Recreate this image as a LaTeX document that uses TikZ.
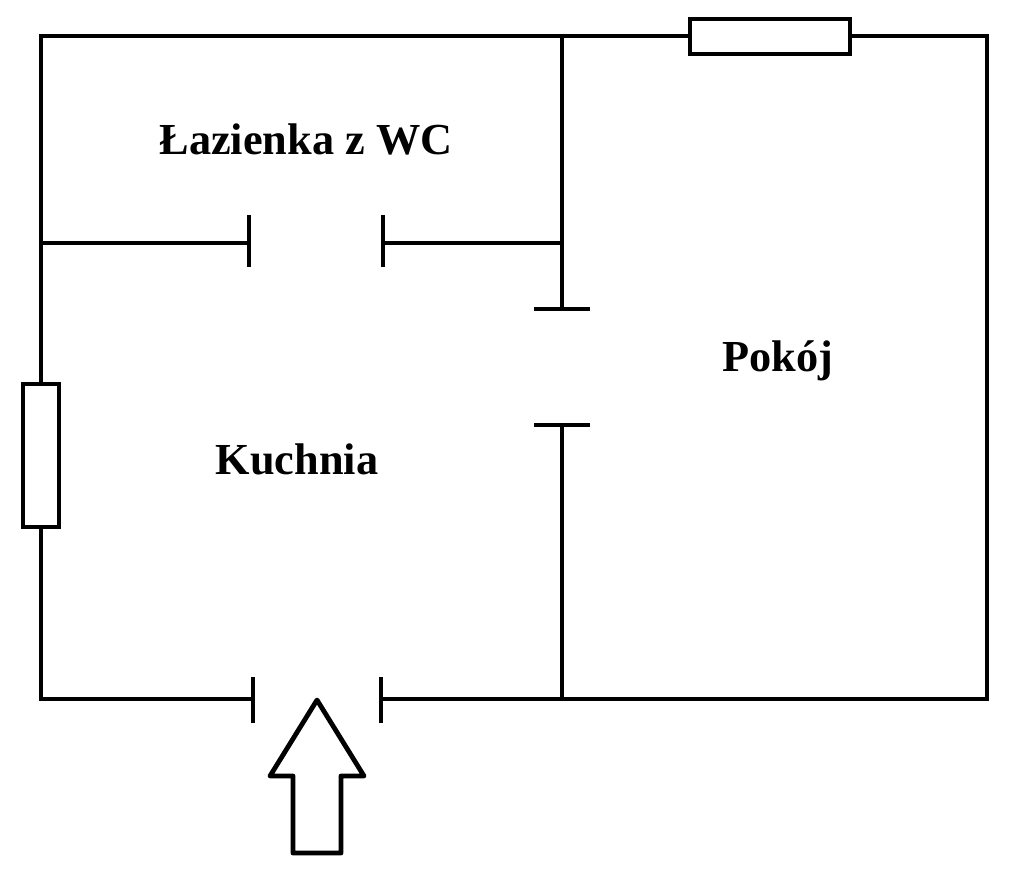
\documentclass[tikz,border=0pt]{standalone}
\usepackage{fontspec}
\setmainfont{Liberation Serif}
\tikzset{
	wall/.style={line width=4.8pt, line cap=butt, line join=miter},
	room/.style={font=\bfseries\fontsize{44.3}{50}\selectfont, inner sep=0pt},
}
\begin{document}
\begin{tikzpicture}[x=1pt,y=-1pt]
		\useasboundingbox (0,0) rectangle (1024,876);
		% outer walls
		\draw [wall] (690,36) -- (41,36) -- (41,384);
		\draw [wall] (41,527) -- (41,699) -- (253,699);
		\draw [wall] (381,699) -- (987,699) -- (987,36) -- (850,36);
		% windows
		\draw [wall] (690,19) rectangle (850,54);
		\draw [wall] (23,384) rectangle (59,527);
		% inner walls
		\draw [wall] (562,36) -- (562,309);
		\draw [wall] (562,425) -- (562,699);
		\draw [wall] (41,243) -- (249,243);
		\draw [wall] (383,243) -- (562,243);
		% door ends
		\draw [wall] (249,215) -- (249,267);
		\draw [wall] (383,215) -- (383,267);
		\draw [wall] (534,309) -- (590,309);
		\draw [wall] (534,425) -- (590,425);
		\draw [wall] (253,677) -- (253,723);
		\draw [wall] (381,677) -- (381,723);
		% entrance
		\draw [wall, line join=round] (317,700) -- (364,776) -- (341,776) -- (341,853) -- (293,853) -- (293,776) -- (270,776) -- cycle;
		% labels
		\node[room](lazienka) at (306,139) {Łazienka z WC};
		\node[room](kuchnia) at (297,459) {Kuchnia};
		\node[room](pokoj) at (778,361) {Pokój};
	\end{tikzpicture}
\end{document}
